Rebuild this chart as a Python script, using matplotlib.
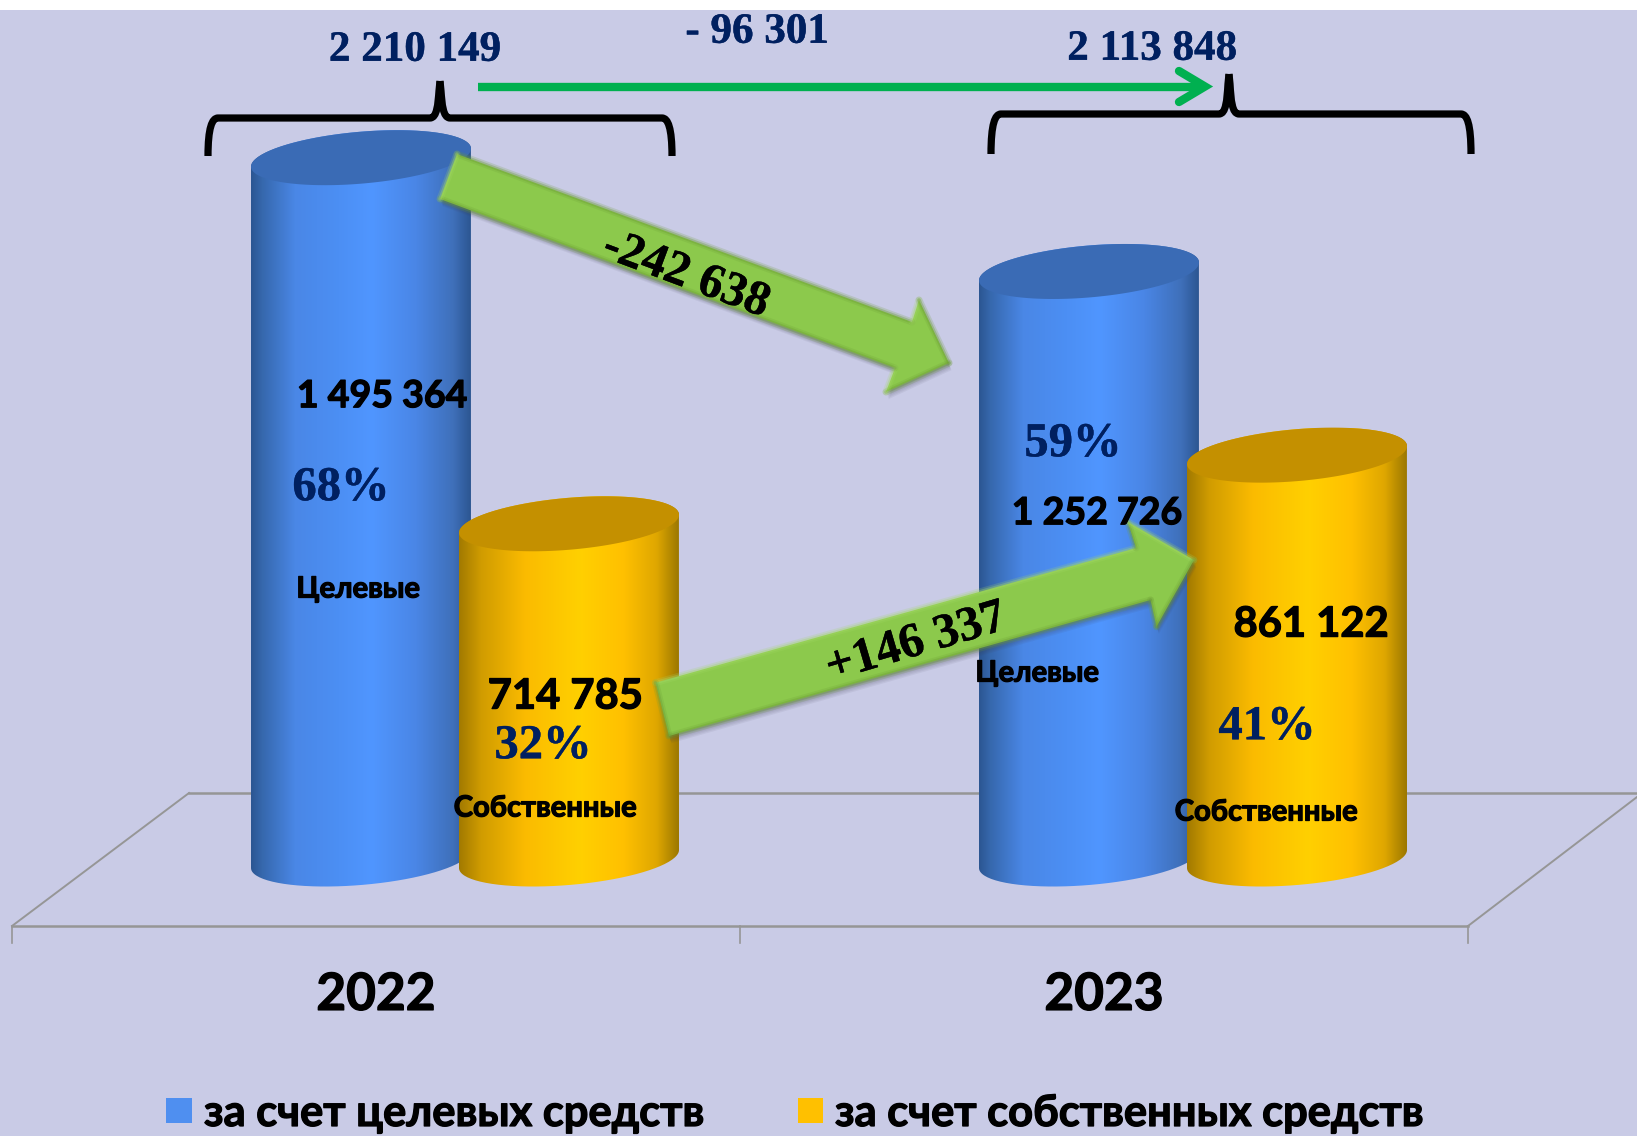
"""Funding by source, 2022 vs 2023: cylinders with change arrows."""

import numpy as np
import matplotlib

matplotlib.use("Agg")
import matplotlib.pyplot as plt  # noqa: E402
import matplotlib.patheffects as pe  # noqa: E402
from matplotlib.colors import LinearSegmentedColormap  # noqa: E402
from matplotlib.path import Path  # noqa: E402
from matplotlib.patches import PathPatch, Polygon, Rectangle  # noqa: E402
from matplotlib.transforms import Affine2D  # noqa: E402

# data
years = ["2022", "2023"]
target_funds = [1495364, 1252726]
own_funds = [714785, 861122]
target_pct = ["68%", "59%"]
own_pct = ["32%", "41%"]
totals = ["2 210 149", "2 113 848"]
total_change = "- 96 301"
target_change = "-242 638"
own_change = "+146 337"
target_label = "Целевые"
own_label = "Собственные"
legend_labels = ["за счет целевых средств", "за счет собственных средств"]

W, H = 1637, 1136
BASE_Y = 859
PX_PER_UNIT = 0.000469
CYL_W = 220

SANS = ["Lato", "Open Sans", "DejaVu Sans"]
SERIF = ["Liberation Serif", "DejaVu Serif"]
NAVY = "#002060"
BG = "#c9cbe6"

blue_map = LinearSegmentedColormap.from_list("blue", [
    (0, "#2c5692"), (0.05, "#3668ad"), (0.2, "#4a87e6"), (0.4, "#4c8ff4"),
    (0.55, "#5096ff"), (0.75, "#4a86e6"), (0.92, "#3f70ba"), (1, "#2c5692")])
gold_map = LinearSegmentedColormap.from_list("gold", [
    (0, "#a27a00"), (0.1, "#d09c00"), (0.3, "#fbbb00"), (0.55, "#ffd000"),
    (0.75, "#ffc000"), (0.9, "#dfa700"), (1, "#9c7800")])

fig = plt.figure(figsize=(W / 100, H / 100), dpi=100, facecolor="white")
ax = fig.add_axes([0, 0, 1, 1])
ax.set_xlim(0, W)
ax.set_ylim((BASE_Y - H) / PX_PER_UNIT, BASE_Y / PX_PER_UNIT)
ax.axis("off")
ax.set_autoscale_on(False)

# pixel coordinates, y down, for everything that is not a value
px = Affine2D().scale(1, -1).translate(0, H)


def line(xs, ys, color, lw, z=1, **kw):
    return ax.plot(xs, ys, color=color, lw=lw, zorder=z, transform=px, clip_on=False, **kw)[0]


def cylinder(x0, value, cmap, top_color, z):
    """Tilted cylinder whose top centre sits at value on the y axis."""
    a = CYL_W / 2
    cx = x0 + a
    tilt = 9 / PX_PER_UNIT
    b = 26 / PX_PER_UNIT
    low = np.linspace(np.pi, 2 * np.pi, 80)
    up = np.linspace(0, np.pi, 80)
    top = np.linspace(0, 2 * np.pi, 160)
    bx = cx + a * np.cos(low)
    by = tilt * np.cos(low) + b * np.sin(low)
    ux = cx + a * np.cos(up)
    uy = value + tilt * np.cos(up) + b * np.sin(up)
    body = PathPatch(Path(np.column_stack([np.r_[bx, ux], np.r_[by, uy]])),
                     fc="none", ec="none", zorder=z)
    ax.add_patch(body)
    im = ax.imshow(np.linspace(0, 1, 256).reshape(1, -1), cmap=cmap, aspect="auto",
                   extent=(x0, x0 + CYL_W, by.min(), uy.max()), zorder=z)
    im.set_clip_path(body)
    ax.fill(cx + a * np.cos(top), value + tilt * np.cos(top) + b * np.sin(top),
            color=top_color, lw=0, zorder=z + 0.1)


def block_arrow(points, face="#8cc94c"):
    pts = np.array(points, float)
    # soft shadow under the arrow
    for i in range(1, 7):
        ax.add_patch(Polygon(pts + [0.4 * i, 1.2 * i], closed=True, fc="#3c3c50", ec="none",
                             alpha=0.07, transform=px, zorder=6, clip_on=False))
    shape = Polygon(pts, closed=True, fc=face, ec="none", transform=px, zorder=6.1, clip_on=False)
    ax.add_patch(shape)
    # bevel on the rim, kept inside the shape
    n = len(pts)
    for i in range(n):
        p, q = pts[i], pts[(i + 1) % n]
        shade = "#a4d966" if (q[0] - p[0]) > 0 and (q[1] - p[1]) < 40 else "#6c9c36"
        for lw, alpha in ((5, 0.2), (2.5, 0.35)):
            seg = line([p[0], q[0]], [p[1], q[1]], shade, lw, z=6.2, alpha=alpha,
                       solid_capstyle="round")
            seg.set_clip_path(shape)


def brace(left, right, mid, y, bottom, tip):
    for end, sign in ((left, 1), (right, -1)):
        path = Path([(end, bottom), (end, y + 10), (end + sign * 4, y), (end + sign * 10, y),
                     (mid - sign * 10, y), (mid - sign * 3, y), (mid - sign * 2, y - 14),
                     (mid - sign * 1, tip + 14), (mid, tip + 4)],
                    [Path.MOVETO, Path.CURVE4, Path.CURVE4, Path.CURVE4, Path.LINETO,
                     Path.CURVE4, Path.CURVE4, Path.LINETO, Path.LINETO])
        ax.add_patch(PathPatch(path, fc="none", ec="black", lw=5.2, transform=px, zorder=5,
                               clip_on=False, capstyle="butt", joinstyle="round"))


def label(x, y, text, size, family=SANS, color="black", rotation=0, z=8):
    heavy = 0.9 if family is SANS else 0.3
    ax.text(x, y + size * 0.12, text, fontsize=size, family=family, fontweight="bold", color=color,
            ha="center", va="center", rotation=rotation, rotation_mode="anchor",
            transform=px, zorder=z,
            path_effects=[pe.withStroke(linewidth=heavy, foreground=color)])


# background, white strip on top
ax.add_patch(Rectangle((0, 10), W, H - 10, fc=BG, ec="none", transform=px, zorder=0))

# floor
GRID = "#969696"
line([189, W], [793, 793], GRID, 1.8)
line([12, 1468], [926, 926], GRID, 1.8)
line([12, 189], [926, 793], GRID, 1.4)
line([1468, W], [926, 797], GRID, 1.4)
for tx in (12, 740, 1468):
    line([tx, tx], [926, 943], GRID, 1.2)

# cylinders
target_x = [251, 979]
own_x = [459, 1187]
for i in range(2):
    cylinder(target_x[i], target_funds[i], blue_map, "#3a6bb5", 3 + i * 2)
    cylinder(own_x[i], own_funds[i], gold_map, "#c49000", 4 + i * 2)

# totals with braces and the green change arrow
brace(208, 672, 440, 118, 156, 77)
brace(991, 1471, 1229, 114, 154, 70)
label(415, 47, totals[0], 31, SERIF, NAVY)
label(1152, 46, totals[1], 31, SERIF, NAVY)
label(757, 29, total_change, 31, SERIF, NAVY)
line([478, 1200], [86.5, 86.5], "#00b050", 6, z=5.5, solid_capstyle="butt")
line([1179, 1205, 1179], [71, 86.5, 102], "#00b050", 6, z=5.5, solid_capstyle="round",
     solid_joinstyle="miter")

# change arrows between the cylinders
block_arrow([(457, 154), (912, 322), (919, 300), (949, 363), (886, 392), (895, 368), (440, 199)])
block_arrow([(655.5, 682.7), (1136, 548), (1127.6, 521.7), (1194, 560), (1156.5, 626.7),
             (1150.5, 600), (669, 736)])
label(686, 271, target_change, 35, SERIF, rotation=-20.5)
label(916, 639, own_change, 35, SERIF, rotation=16.5)

# value labels
value_xy = [(382, 393), (565, 693), (1097, 510), (1311, 621)]
values = [target_funds[0], own_funds[0], target_funds[1], own_funds[1]]
value_sizes = [27, 30, 27, 30]
for (vx, vy), v, size in zip(value_xy, values, value_sizes):
    label(vx, vy, f"{v:,}".replace(",", " "), size)

label(341, 484, target_pct[0], 35, SERIF, NAVY)
label(543, 742, own_pct[0], 35, SERIF, NAVY)
label(1073, 440, target_pct[1], 35, SERIF, NAVY)
label(1267, 723, own_pct[1], 35, SERIF, NAVY)

label(358, 587, target_label, 21)
label(1037, 671, target_label, 21)
label(545, 806, own_label, 21)
label(1266, 810, own_label, 21)

# category labels
label(376, 991, years[0], 37)
label(1104, 991, years[1], 37)

# legend
ax.add_patch(Rectangle((166, 1098), 26, 25, fc="#4f8ff0", ec="none", transform=px, zorder=8))
ax.add_patch(Rectangle((798, 1098), 25, 25, fc="#ffc000", ec="none", transform=px, zorder=8))
for lx, text in zip((204, 835), legend_labels):
    ax.text(lx, 1126, text, fontsize=31.3, family=SANS, fontweight="bold", color="black",
            ha="left", va="baseline", transform=px, zorder=8,
            path_effects=[pe.withStroke(linewidth=0.9, foreground="black")])

fig.savefig("out.png", dpi=100, facecolor="white")
plt.close(fig)
